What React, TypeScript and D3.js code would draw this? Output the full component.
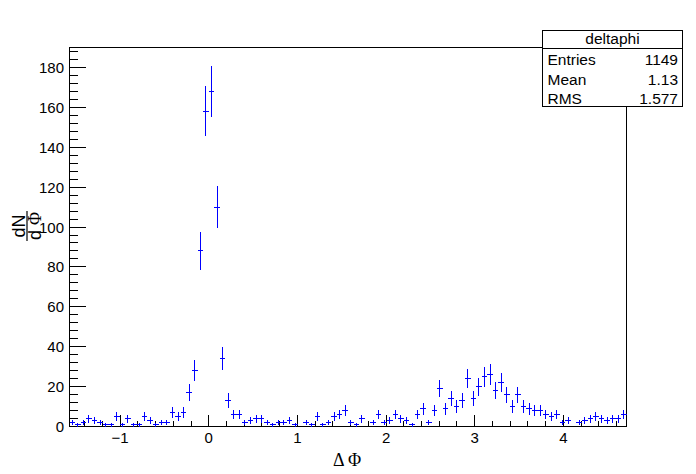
import React from "react";
import * as d3 from "d3";

// Histogram "deltaphi": 100 bins on [-pi/2, 3pi/2]
const binCounts: number[] = [
  2, 1, 2, 4, 3, 2, 1, 1, 5, 1, 4, 1, 1, 5, 3, 1, 2, 2, 7, 5,
  7, 17, 28, 88, 158, 168, 110, 34, 13, 6, 6, 2, 3, 4, 4, 2, 1, 2, 2, 3,
  1, 0, 2, 1, 5, 1, 2, 5, 6, 8, 2, 1, 4, 0, 2, 6, 2, 3, 6, 4,
  3, 1, 6, 9, 2, 8, 19, 9, 14, 10, 13, 24, 14, 20, 25, 26, 18, 22, 16, 10,
  16, 10, 9, 8, 8, 6, 5, 6, 2, 3, 0, 2, 3, 4, 5, 4, 3, 4, 4, 6,
];
const xRange: number[] = [-Math.PI / 2, (3 * Math.PI) / 2];
const yRange: number[] = [0, 190];
const xTickValues: number[] = [-1, 0, 1, 2, 3, 4];
const xTickLabels: string[] = ["\u22121", "0", "1", "2", "3", "4"];
const yTickValues: number[] = [0, 20, 40, 60, 80, 100, 120, 140, 160, 180];
const yTickLabels: string[] = ["0", "20", "40", "60", "80", "100", "120", "140", "160", "180"];
const statsNames: string[] = ["Entries", "Mean", "RMS"];
const statsValues: string[] = ["1149", "1.13", "1.577"];
const histName = "deltaphi";

const W = 696;
const H = 474;
const L = 69.5, R = 626.5, T = 47.5, B = 426.5;
const SANS = "'Liberation Sans', Arial, Helvetica, sans-serif";
const SERIF = "'Liberation Serif', 'Times New Roman', serif";

export default function App() {
  const x = d3.scaleLinear().domain(xRange).range([L, R]);
  const y = d3.scaleLinear().domain(yRange).range([B, T]);
  const nb = binCounts.length;
  const bw = (xRange[1] - xRange[0]) / nb;

  const xMinor: number[] = [];
  for (let v = -1.4; v <= 4.7; v += 0.2) xMinor.push(Math.round(v * 10) / 10);
  const yMinor: number[] = [];
  for (let v = 0; v <= 190; v += 4) yMinor.push(v);

  const xtl = 0.03 * (B - T);
  const ytl = 0.03 * (R - L);
  const px = (v: number) => Math.round(v - 0.5) + 0.5;

  return (
    <svg
      width={W}
      height={H}
      style={{ position: "absolute", left: 0, top: 0, background: "#fff" }}
      xmlns="http://www.w3.org/2000/svg"
    >
      <rect x={0} y={0} width={W} height={H} fill="#fff" />
      <g shapeRendering="crispEdges">
        {/* frame */}
        <rect x={L} y={T} width={R - L} height={B - T} fill="none" stroke="#000" strokeWidth={1} />

        {/* x ticks */}
        {xMinor.map((v, i) => (
          <line key={"xm" + i} x1={px(x(v))} x2={px(x(v))} y1={B} y2={B - xtl / 2} stroke="#000" strokeWidth={1} />
        ))}
        {xTickValues.map((v, i) => (
          <line key={"xt" + i} x1={px(x(v))} x2={px(x(v))} y1={B} y2={B - xtl} stroke="#000" strokeWidth={1} />
        ))}

        {/* y ticks */}
        {yMinor.map((v, i) => (
          <line key={"ym" + i} x1={L} x2={L + ytl / 2} y1={px(y(v))} y2={px(y(v))} stroke="#000" strokeWidth={1} />
        ))}
        {yTickValues.map((v, i) => (
          <line key={"yt" + i} x1={L} x2={L + ytl} y1={px(y(v))} y2={px(y(v))} stroke="#000" strokeWidth={1} />
        ))}

        {/* histogram error bars */}
        {binCounts.map((c, i) => {
          if (c <= 0) return null;
          const lo = xRange[0] + i * bw;
          const hi = lo + bw;
          const xc = px(x(lo + bw / 2));
          const e = Math.sqrt(c);
          return (
            <g key={"b" + i} stroke="#0000ff" strokeWidth={1}>
              <line x1={x(lo)} x2={x(hi)} y1={px(y(c))} y2={px(y(c))} />
              <line x1={xc} x2={xc} y1={y(c - e)} y2={y(c + e)} />
            </g>
          );
        })}
      </g>

      {xTickValues.map((v, i) => (
        <text key={"xl" + i} x={x(v)} y={443} textAnchor="middle" fontFamily={SANS} fontSize={15}>
          {xTickLabels[i]}
        </text>
      ))}
      {yTickValues.map((v, i) => (
        <text key={"yl" + i} x={64} y={y(v) + 5.5} textAnchor="end" fontFamily={SANS} fontSize={15}>
          {yTickLabels[i]}
        </text>
      ))}

      {/* axis titles */}
      <text x={347} y={466} textAnchor="middle" fontFamily={SERIF} fontSize={18}>
        {"\u0394 \u03A6"}
      </text>
      <g transform="translate(27,226) rotate(-90)">
        <text x={0} y={-2} textAnchor="middle" fontFamily={SANS} fontSize={18}>
          dN
        </text>
        <line x1={-15} x2={15} y1={0} y2={0} stroke="#000" strokeWidth={1.2} />
        <text x={0} y={14} textAnchor="middle" fontFamily={SANS} fontSize={18}>
          {"d "}
          <tspan fontFamily={SERIF}>{"\u03A6"}</tspan>
        </text>
      </g>

      {/* stats box */}
      <g shapeRendering="crispEdges">
        <rect x={542.5} y={30.5} width={140} height={76} fill="#fff" stroke="#000" strokeWidth={1} />
        <line x1={542.5} x2={682.5} y1={48.5} y2={48.5} stroke="#000" strokeWidth={1} />
      </g>
      <text x={612.5} y={44} textAnchor="middle" fontFamily={SANS} fontSize={15.5}>
        {histName}
      </text>
      {statsNames.map((n, i) => (
        <g key={"s" + i}>
          <text x={547.5} y={65 + i * 19.5} fontFamily={SANS} fontSize={15.5}>
            {n}
          </text>
          <text x={678} y={65 + i * 19.5} textAnchor="end" fontFamily={SANS} fontSize={15.5}>
            {statsValues[i]}
          </text>
        </g>
      ))}
    </svg>
  );
}
